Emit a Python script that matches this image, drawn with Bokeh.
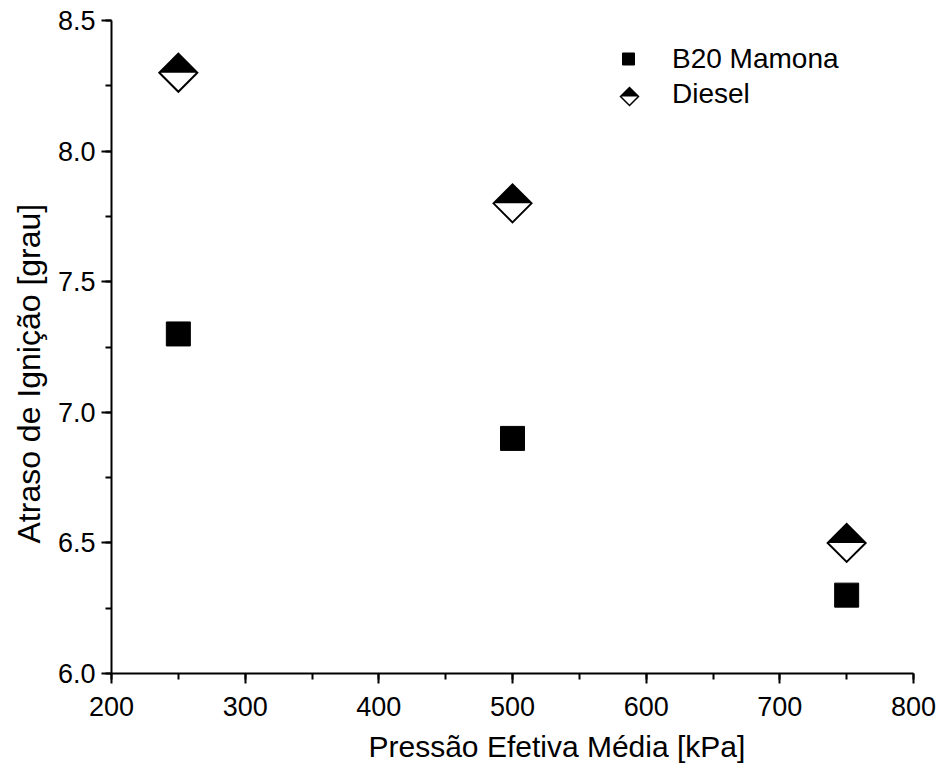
import math
from bokeh.plotting import figure
from bokeh.models import (Range1d, SingleIntervalTicker, PrintfTickFormatter,
                          Legend, LegendItem, Title)
from bokeh.embed import file_html
from bokeh.resources import INLINE

# ---------------- data ----------------
pressure = [250, 500, 750]
b20_mamona = [7.3, 6.9, 6.3]
diesel = [8.3, 7.8, 6.5]
series_labels = ["B20 Mamona", "Diesel"]
x_title = "Pressão Efetiva Média [kPa]"
y_title = "Atraso de Ignição [grau]"

# ---------------- layout ----------------
X0, X1 = 200, 800
Y0, Y1 = 6.0, 8.5
W, H = 939, 774
BL, BR, BT, BB = 111, 26, 20, 101
FW = W - BL - BR
FH = H - BT - BB
PX_X = FW / (X1 - X0)
PX_Y = FH / (Y1 - Y0)
FONT = "Liberation Sans"

p = figure(width=W, height=H, x_range=Range1d(X0, X1), y_range=Range1d(Y0, Y1),
           output_backend="svg", toolbar_location=None,
           min_border_left=BL, min_border_right=BR, min_border_top=BT, min_border_bottom=BB)
p.outline_line_color = None
p.grid.visible = False
p.background_fill_color = "white"
p.border_fill_color = "white"

p.xaxis.ticker = SingleIntervalTicker(interval=100, num_minor_ticks=2)
p.yaxis.ticker = SingleIntervalTicker(interval=0.5, num_minor_ticks=2)
p.yaxis.formatter = PrintfTickFormatter(format="%.1f")
for ax in (p.xaxis, p.yaxis):
    ax.axis_line_width = 2
    ax.axis_line_color = "black"
    ax.major_tick_line_width = 2
    ax.minor_tick_line_width = 2
    ax.major_tick_line_color = "black"
    ax.minor_tick_line_color = "black"
    ax.major_tick_in = 0
    ax.major_tick_out = 10
    ax.minor_tick_in = 0
    ax.minor_tick_out = 6
    ax.major_label_text_font = FONT
    ax.major_label_text_font_size = "27px"
    ax.major_label_text_color = "black"
p.xaxis.major_label_standoff = 13
p.yaxis.major_label_standoff = 6

# ---------------- B20 squares ----------------
r_b20 = p.scatter(pressure, b20_mamona, marker="square", size=24,
                  fill_color="black", line_color="black", line_width=1)

# ---------------- Diesel half-filled diamonds ----------------
def diamond_paths(xc, yc, half_px):
    dx = half_px / PX_X
    dy = half_px / PX_Y
    full_x = [[x - dx, x, x + dx, x] for x in xc]
    full_y = [[y, y + dy, y, y - dy] for y in yc]
    top_x = [[x - dx, x, x + dx] for x in xc]
    top_y = [[y, y + dy, y] for y in yc]
    return full_x, full_y, top_x, top_y

def draw_half_diamonds(xc, yc, half_px, lw):
    fx, fy, tx, ty = diamond_paths(xc, yc, half_px)
    p.patches(fx, fy, fill_color="white", line_color=None)
    p.patches(tx, ty, fill_color="black", line_color=None)
    p.patches(fx, fy, fill_color=None, line_color="black", line_width=lw,
              line_join="miter")

draw_half_diamonds(pressure, diesel, 19, 2)

# invisible renderer used only as legend anchor for Diesel
r_diesel = p.scatter(pressure, diesel, marker="square", size=1,
                     fill_alpha=0, line_alpha=0)

# ---------------- legend ----------------
legend = Legend(items=[LegendItem(label=series_labels[0], renderers=[r_b20]),
                       LegendItem(label=series_labels[1], renderers=[r_diesel])],
                location=(502, 562), orientation="vertical",
                glyph_width=30, glyph_height=35, label_height=35,
                spacing=0, padding=0, margin=0, label_standoff=29,
                border_line_color=None, background_fill_alpha=0,
                label_text_font=FONT, label_text_font_size="28px",
                label_text_color="black")
p.add_layout(legend)

# legend symbol for Diesel (drawn at the legend's second row)
leg_x = X0 + (629 - BL) / PX_X
leg_y = Y0 + (BT + FH - 96) / PX_Y
draw_half_diamonds([leg_x], [leg_y], 9, 1.5)

# ---------------- axis titles ----------------
p.add_layout(Title(text=x_title, align="left", offset=257, standoff=19,
                   text_font=FONT, text_font_size="30px", text_font_style="normal",
                   text_color="black"), "below")
p.add_layout(Title(text=y_title, align="left", offset=130, standoff=15,
                   text_font=FONT, text_font_size="32px", text_font_style="normal",
                   text_color="black"), "left")

open("out.html", "w").write(file_html(p, INLINE))
